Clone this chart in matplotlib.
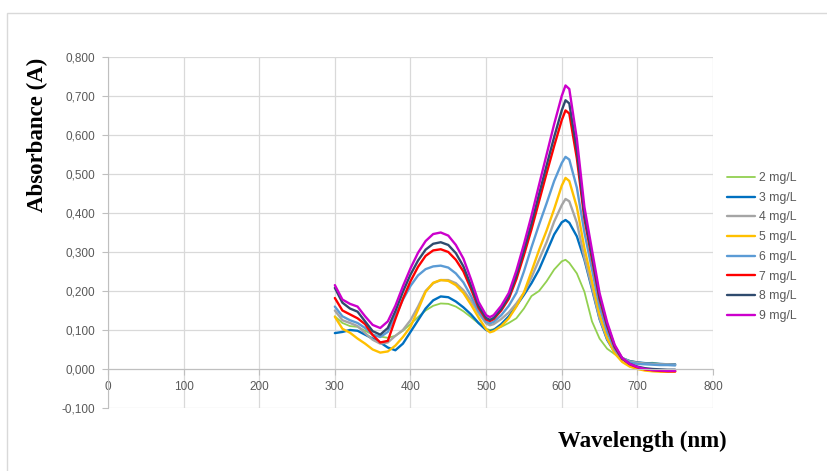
"""Absorbance spectra for 2-9 mg/L solutions, Excel-style line chart."""
import matplotlib
matplotlib.use("Agg")
import matplotlib.pyplot as plt
import matplotlib.ticker as ticker
from matplotlib.patches import Rectangle

WAVELENGTH = [300, 310, 320, 330, 340, 350, 360, 370, 380, 390, 400, 410, 420, 430, 440,
              450, 460, 470, 480, 490, 500, 505, 510, 520, 530, 540, 550, 560, 570, 580,
              590, 600, 605, 610, 620, 630, 640, 650, 660, 670, 680, 690, 700, 710, 720,
              730, 740, 750]

A_2 = [0.135, 0.118, 0.110, 0.108, 0.098, 0.088, 0.083, 0.080, 0.085, 0.098, 0.115, 0.133,
       0.150, 0.162, 0.168, 0.167, 0.160, 0.148, 0.133, 0.117, 0.103, 0.100,
       0.102, 0.108, 0.118, 0.130, 0.155, 0.187, 0.200, 0.225, 0.255, 0.276, 0.280,
       0.272, 0.245, 0.198, 0.122, 0.078, 0.052, 0.038, 0.027, 0.021, 0.017, 0.015,
       0.016, 0.013, 0.012, 0.011]
A_3 = [0.092, 0.095, 0.100, 0.098, 0.088, 0.078, 0.068, 0.055, 0.048, 0.065, 0.095, 0.125,
       0.155, 0.176, 0.186, 0.184, 0.173, 0.158, 0.140, 0.118, 0.100, 0.097,
       0.100, 0.115, 0.135, 0.162, 0.190, 0.220, 0.255, 0.300, 0.345, 0.376, 0.382,
       0.375, 0.340, 0.280, 0.205, 0.128, 0.075, 0.043, 0.028, 0.020, 0.017, 0.015,
       0.014, 0.013, 0.012, 0.012]
A_4 = [0.150, 0.125, 0.118, 0.110, 0.092, 0.075, 0.065, 0.068, 0.085, 0.100, 0.125, 0.160,
       0.200, 0.220, 0.228, 0.228, 0.220, 0.202, 0.175, 0.143, 0.117, 0.112,
       0.115, 0.128, 0.145, 0.168, 0.195, 0.235, 0.280, 0.325, 0.378, 0.420, 0.436,
       0.430, 0.375, 0.285, 0.210, 0.130, 0.078, 0.045, 0.028, 0.019, 0.016, 0.014,
       0.013, 0.012, 0.012, 0.011]
A_5 = [0.134, 0.103, 0.093, 0.078, 0.065, 0.050, 0.042, 0.045, 0.060, 0.082, 0.108, 0.152,
       0.198, 0.221, 0.228, 0.226, 0.215, 0.195, 0.165, 0.132, 0.102, 0.094,
       0.097, 0.110, 0.130, 0.160, 0.196, 0.250, 0.305, 0.355, 0.410, 0.470, 0.490,
       0.482, 0.415, 0.310, 0.225, 0.140, 0.080, 0.040, 0.018, 0.006, 0.000, -0.004,
       -0.006, -0.007, -0.007, -0.007]
A_6 = [0.160, 0.135, 0.125, 0.118, 0.105, 0.088, 0.082, 0.095, 0.135, 0.178, 0.213, 0.240,
       0.256, 0.263, 0.265, 0.260, 0.245, 0.222, 0.187, 0.148, 0.121, 0.117,
       0.121, 0.138, 0.162, 0.195, 0.250, 0.312, 0.370, 0.425, 0.482, 0.528, 0.544,
       0.537, 0.465, 0.350, 0.255, 0.160, 0.095, 0.050, 0.026, 0.017, 0.013, 0.012,
       0.011, 0.010, 0.010, 0.009]
A_7 = [0.182, 0.150, 0.140, 0.130, 0.115, 0.087, 0.068, 0.072, 0.128, 0.180, 0.225, 0.262,
       0.290, 0.304, 0.307, 0.300, 0.280, 0.250, 0.205, 0.157, 0.127, 0.123,
       0.128, 0.150, 0.180, 0.230, 0.292, 0.358, 0.430, 0.502, 0.572, 0.638, 0.663,
       0.655, 0.540, 0.385, 0.282, 0.180, 0.110, 0.056, 0.026, 0.012, 0.004, -0.001,
       -0.003, -0.005, -0.006, -0.006]
A_8 = [0.208, 0.170, 0.155, 0.147, 0.122, 0.097, 0.088, 0.105, 0.148, 0.198, 0.242, 0.278,
       0.306, 0.321, 0.325, 0.318, 0.297, 0.263, 0.214, 0.162, 0.131, 0.126,
       0.131, 0.154, 0.186, 0.240, 0.304, 0.373, 0.448, 0.522, 0.595, 0.663, 0.689,
       0.681, 0.560, 0.395, 0.290, 0.186, 0.114, 0.059, 0.027, 0.013, 0.006, 0.002,
       0.000, -0.001, -0.002, -0.002]
A_9 = [0.215, 0.178, 0.167, 0.160, 0.135, 0.113, 0.105, 0.122, 0.162, 0.212, 0.258, 0.298,
       0.328, 0.346, 0.350, 0.342, 0.318, 0.283, 0.230, 0.172, 0.138, 0.133,
       0.138, 0.162, 0.195, 0.252, 0.320, 0.393, 0.472, 0.550, 0.628, 0.700, 0.727,
       0.718, 0.590, 0.415, 0.305, 0.195, 0.120, 0.062, 0.028, 0.013, 0.005, 0.000,
       -0.003, -0.004, -0.005, -0.005]

LABELS = ["2 mg/L", "3 mg/L", "4 mg/L", "5 mg/L", "6 mg/L", "7 mg/L", "8 mg/L", "9 mg/L"]
SERIES = [A_2, A_3, A_4, A_5, A_6, A_7, A_8, A_9]
COLORS = ["#92D050", "#0070C0", "#A5A5A5", "#FFC000", "#5B9BD5", "#FF0000", "#2F4B6E", "#CC00CC"]


def main() -> None:
    fig = plt.figure(figsize=(8.28, 4.71), dpi=100)
    ax = fig.add_axes([0.1304, 0.1338, 0.7307, 0.7452])

    for ys, lab, col in zip(SERIES, LABELS, COLORS):
        lw = 1.3 if lab == "2 mg/L" else 1.7
        ax.plot(WAVELENGTH, ys, color=col, lw=lw, label=lab, solid_capstyle="round")

    ax.set_xlim(0, 800)
    ax.set_ylim(-0.1, 0.8)
    ax.set_xticks(range(0, 801, 100))
    ax.set_yticks([i / 10 for i in range(-1, 9)])
    ax.yaxis.set_major_formatter(ticker.FuncFormatter(lambda v, _: f"{v:.3f}".replace(".", ",")))
    ax.grid(color="#d9d9d9", lw=0.9)
    ax.set_axisbelow(True)

    for s in ("top", "right"):
        ax.spines[s].set_visible(False)
    ax.spines["bottom"].set_position(("data", 0))
    ax.spines["bottom"].set_color("#bfbfbf")
    ax.spines["left"].set_color("#bfbfbf")
    ax.tick_params(labelsize=8.5, labelcolor="#595959", color="#bfbfbf", length=4)
    ax.tick_params(axis="y", pad=5)
    ax.tick_params(axis="x", pad=4.5)
    for t in ax.get_xticklabels() + ax.get_yticklabels():
        t.set_family("Liberation Sans")

    leg = ax.legend(loc="upper left", bbox_to_anchor=(0.865, 0.658),
                    bbox_transform=fig.transFigure, frameon=False,
                    handlelength=2.3, handletextpad=0.3, labelspacing=0.63,
                    prop={"family": "Liberation Sans", "size": 8.8})
    for t in leg.get_texts():
        t.set_color("#595959")

    serif = dict(family="Liberation Serif", weight="bold", size=16.5)
    fig.text(37 / 828, 1 - 135 / 471, "Absorbance (A)", rotation=90,
             ha="center", va="center", **serif)
    fig.text(642 / 828, 1 - 441 / 471, "Wavelength (nm)", ha="center", va="center", **serif)

    # light chart-area border, like the Excel export
    fig.patches.append(Rectangle((7 / 828, -0.05), 1.2, 1 - 13 / 471 + 0.05,
                                 transform=fig.transFigure, fill=False,
                                 edgecolor="#d9d9d9", lw=1))

    fig.savefig("out.png", dpi=100)


if __name__ == "__main__":
    main()
